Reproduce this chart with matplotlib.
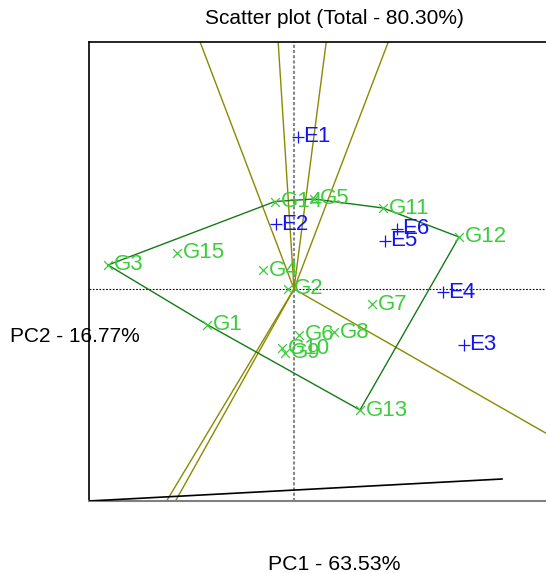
import matplotlib
matplotlib.use("Agg")
import matplotlib.pyplot as plt
import numpy as np

plt.rcParams['font.family'] = ['Liberation Sans', 'DejaVu Sans']

# Genotype scores (PC1, PC2)
gen_names = ["G1", "G2", "G3", "G4", "G5", "G6", "G7", "G8", "G9", "G10",
             "G11", "G12", "G13", "G14", "G15"]
gen_pc1 = [-0.87, -0.06, -1.86, -0.31, 0.20, 0.05, 0.78, 0.40, -0.09, -0.12,
           0.89, 1.65, 0.66, -0.19, -1.17]
gen_pc2 = [-0.355, 0.00, 0.24, 0.19, 0.90, -0.46, -0.15, -0.43, -0.64, -0.59,
           0.81, 0.52, -1.21, 0.875, 0.36]

# Environment scores (PC1, PC2)
env_names = ["E1", "E2", "E3", "E4", "E5", "E6"]
env_pc1 = [0.04, -0.18, 1.70, 1.49, 0.91, 1.03]
env_pc2 = [1.52, 0.65, -0.56, -0.03, 0.48, 0.60]

# Convex hull vertices (polygon of winning genotypes)
hull_names = ["G3", "G14", "G5", "G11", "G12", "G13", "G1"]

# Extra black segment at the bottom of the plot
seg_x = [-2.05, 2.08]
seg_y = [-2.12, -1.90]

title = "Scatter plot (Total - 80.30%)"
xlabel = "PC1 - 63.53%"
ylabel = "PC2 - 16.77%"

W, H = 546, 573
fig = plt.figure(figsize=(W / 100, H / 100), dpi=100)
ax = fig.add_axes([89 / W, (H - 501) / H, (579 - 89) / W, (501 - 42) / H])
ax.set_xlim(-2.05, 2.85)
ax.set_ylim(-2.12, 2.47)
ax.set_xticks([])
ax.set_yticks([])
for s in ["left", "top"]:
    ax.spines[s].set_color("black")
    ax.spines[s].set_linewidth(1.2)
ax.spines["bottom"].set_color("#808080")
ax.spines["bottom"].set_linewidth(1.5)
ax.spines["right"].set_visible(False)

# reference axes through origin
ax.axhline(0, color="black", lw=0.8, ls=(0, (1.5, 1.5)), zorder=1)
ax.axvline(0, color="#888888", lw=1.5, ls=(0, (1.5, 1.0)), zorder=1)

gx = dict(zip(gen_names, gen_pc1))
gy = dict(zip(gen_names, gen_pc2))
hx = [gx[n] for n in hull_names]
hy = [gy[n] for n in hull_names]

# rays perpendicular to hull edges
olive = "#8a8a00"
for i in range(len(hull_names)):
    x1, y1 = hx[i], hy[i]
    x2, y2 = hx[(i + 1) % len(hx)], hy[(i + 1) % len(hy)]
    dx, dy = x2 - x1, y2 - y1
    n = np.array([dy, -dx])
    mid = np.array([(x1 + x2) / 2, (y1 + y2) / 2])
    if np.dot(n, mid) < 0:
        n = -n
    n = n / np.linalg.norm(n) * 10
    ax.plot([0, n[0]], [0, n[1]], color=olive, lw=1.0, zorder=2)

# hull polygon
ax.plot(hx + [hx[0]], hy + [hy[0]], color="#167a16", lw=1.0, zorder=3)

# bottom segment
ax.plot(seg_x, seg_y, color="black", lw=1.2, zorder=3)

green = "#3ccc3c"
blue = "#1414f0"
ax.scatter(gen_pc1, gen_pc2, marker="x", s=40, color=green, linewidths=0.9, zorder=4)
ax.scatter(env_pc1, env_pc2, marker="+", s=70, color=blue, linewidths=0.9, zorder=4)

fs = 16
for n, x, y in zip(gen_names, gen_pc1, gen_pc2):
    ax.annotate(n, (x, y), xytext=(4, 0), textcoords="offset points",
                color=green, fontsize=fs, va="center", ha="left", zorder=5)
for n, x, y in zip(env_names, env_pc1, env_pc2):
    ax.annotate(n, (x, y), xytext=(4, 0), textcoords="offset points",
                color=blue, fontsize=fs, va="center", ha="left", zorder=5)

fig.text(334 / W, 1 - 19 / H, title, ha="center", va="center", fontsize=15)
fig.text(334 / W, 1 - 565 / H, xlabel, ha="center", va="center", fontsize=15.3)
fig.text(10 / W, 1 - 337 / H, ylabel, ha="left", va="center", fontsize=15)

fig.savefig("out.png", dpi=100)
